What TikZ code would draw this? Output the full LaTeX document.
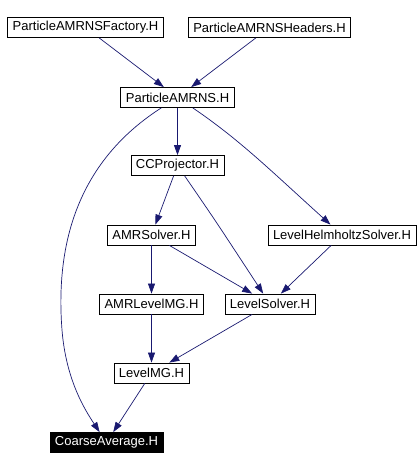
\documentclass[tikz,border=0pt]{standalone}
\usepackage{fontspec}
\setmainfont{Liberation Sans}
\usetikzlibrary{arrows.meta}
\definecolor{edgeblue}{RGB}{25,25,112}

\begin{document}
\begin{tikzpicture}[x=1pt, y=-1pt,
  box/.style={draw, line width=0.8pt, minimum height=20pt, inner xsep=5pt, inner ysep=0pt,
    font=\fontsize{13}{13}\selectfont},
  dep/.style={draw=edgeblue, line width=0.7pt, -{Triangle[length=10pt, width=7pt]}, fill=none}]
\useasboundingbox (0,0) rectangle (418,470);
% Draw headers
\node[box] (fac) at (85.5,27.5) {ParticleAMRNSFactory.H};
\node[box] (hdr) at (269.5,27.5) {ParticleAMRNSHeaders.H};
\node[box] (pam) at (177.5,97.5) {ParticleAMRNS.H};
\node[box] (ccp) at (177.5,165.5) {CCProjector.H};
\node[box] (amrs) at (151.5,235) {AMRSolver.H};
\node[box] (lhs) at (342,235) {LevelHelmholtzSolver.H};
\node[box] (amrmg) at (151.5,304) {AMRLevelMG.H};
\node[box] (ls) at (270,304) {LevelSolver.H};
\node[box] (lmg) at (151.5,373) {LevelMG.H};
\node[box, fill=black, text=white] (ca) at (106.5,442.5) {CoarseAverage.H};
% Draw includes
\draw[dep] (fac) -- (pam);
\draw[dep] (hdr) -- (pam);
\draw[dep] (pam) -- (ccp);
\draw[dep] (pam) .. controls (240,140) and (270,170) .. (lhs);
\draw[dep] (pam) .. controls (80,160) and (55,240) .. (62,330)
  .. controls (66,380) and (85,410) .. (ca);
\draw[dep] (ccp) -- (amrs);
\draw[dep] (ccp) .. controls (215,220) .. (ls);
\draw[dep] (amrs) -- (amrmg);
\draw[dep] (amrs) -- (ls);
\draw[dep] (lhs) -- (ls);
\draw[dep] (amrmg) -- (lmg);
\draw[dep] (ls) -- (lmg);
\draw[dep] (lmg) -- (ca);
\end{tikzpicture}
\end{document}
